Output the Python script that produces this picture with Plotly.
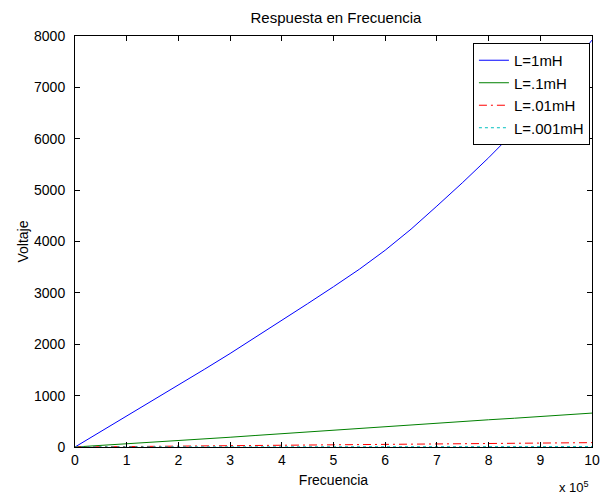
import plotly.graph_objects as go

# Frequency (Hz)
freq = [0, 5e4, 1e5, 1.5e5, 2e5, 2.5e5, 3e5, 3.5e5, 4e5, 4.5e5, 5e5,
        5.5e5, 6e5, 6.5e5, 7e5, 7.5e5, 8e5, 8.5e5, 9e5, 9.5e5, 1e6]

v_1mH = [0, 300, 600, 900, 1200, 1510, 1820, 2140, 2470, 2790, 3120,
         3460, 3830, 4240, 4690, 5150, 5630, 6140, 6690, 7290, 7920]
v_01mH = [0, 30, 60, 92, 125, 158, 190, 225, 260, 295, 330,
          365, 400, 432, 465, 498, 530, 560, 590, 625, 660]
v_001mH = [0, 4, 8, 12, 17, 21, 25, 30, 34, 38, 42,
           47, 51, 55, 60, 64, 68, 72, 76, 80, 85]
v_0001mH = [0, 0.4, 0.8, 1.2, 1.7, 2.1, 2.5, 3, 3.4, 3.8, 4.2,
            4.7, 5.1, 5.5, 6, 6.4, 6.8, 7.2, 7.6, 8, 8.5]

series_names = ["L=1mH", "L=.1mH", "L=.01mH", "L=.001mH"]
x_tick_vals = [i * 1e5 for i in range(11)]
x_tick_text = [str(i) for i in range(11)]
y_tick_vals = [0, 1000, 2000, 3000, 4000, 5000, 6000, 7000, 8000]

styles = [
    dict(color="#0000ff", dash="solid"),
    dict(color="#008000", dash="solid"),
    dict(color="#ff0000", dash="8px,4px,2px,4px"),
    dict(color="#00bfbf", dash="3px,3px"),
]

fig = go.Figure()
for name, vals, st in zip(series_names, [v_1mH, v_01mH, v_001mH, v_0001mH], styles):
    fig.add_trace(go.Scatter(x=freq, y=vals, mode="lines", name=name,
                             line=dict(color=st["color"], dash=st["dash"], width=1)))

FAM = "Liberation Sans, Arial, sans-serif"
fig.update_layout(
    width=612, height=498,
    margin=dict(l=75, r=12, t=36, b=51),
    paper_bgcolor="white", plot_bgcolor="white",
    font=dict(family=FAM, size=14, color="black"),
    title=dict(text="Respuesta en Frecuencia", x=(75 + 597) / 2 / 612, xanchor="center",
               y=1 - 18 / 498, yanchor="middle", font=dict(family=FAM, size=15, color="black")),
    showlegend=True,
    legend=dict(x=0.996, xanchor="right", y=0.983, yanchor="top",
                bordercolor="black", borderwidth=1, bgcolor="white",
                font=dict(family=FAM, size=15, color="black"), itemwidth=30, tracegroupgap=0),
    xaxis=dict(range=[0, 1e6], tickvals=x_tick_vals, ticktext=x_tick_text,
               ticks="inside", ticklen=5, tickcolor="black", mirror="ticks",
               showline=True, linecolor="black", linewidth=1, showgrid=False,
               zeroline=False, tickfont=dict(family=FAM, size=14, color="black"),
               title=dict(text="Frecuencia", standoff=8,
                          font=dict(family=FAM, size=14, color="black"))),
    yaxis=dict(range=[0, 8000], tickvals=y_tick_vals,
               ticks="inside", ticklen=5, tickcolor="black", mirror="ticks",
               showline=True, linecolor="black", linewidth=1, showgrid=False,
               zeroline=False, tickfont=dict(family=FAM, size=14, color="black"),
               ticklabelstandoff=6,
               title=dict(text="Voltaje", standoff=2,
                          font=dict(family=FAM, size=14, color="black"))),
)
fig.add_annotation(text="x 10<sup>5</sup>", xref="paper", yref="paper",
                   x=0.966, y=-0.098, xanchor="center", yanchor="middle",
                   showarrow=False, font=dict(family=FAM, size=13, color="black"))

fig.write_html("out.html")
